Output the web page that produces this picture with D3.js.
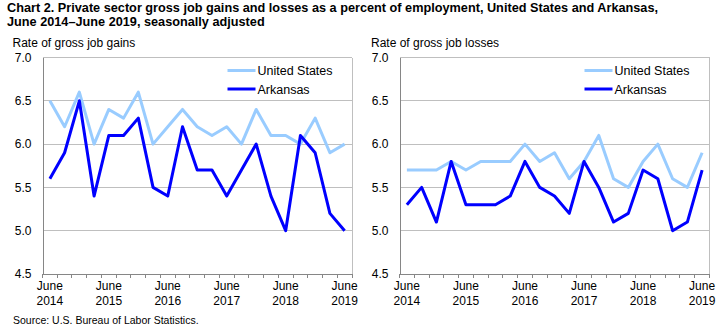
<!DOCTYPE html>
<html>
<head>
<meta charset="utf-8">
<script src="https://cdn.jsdelivr.net/npm/d3@7"></script>
<style>
  html, body { margin: 0; padding: 0; background: #fff; }
  svg { display: block; }
  text { font-family: "Liberation Sans", Arial, sans-serif; fill: #000; }
</style>
</head>
<body>
<svg id="chart" width="726" height="333"></svg>
<script>
// Quarterly reference months, June 2014 through June 2019
const quarters = [
  "2014-06", "2014-09", "2014-12", "2015-03",
  "2015-06", "2015-09", "2015-12", "2016-03",
  "2016-06", "2016-09", "2016-12", "2017-03",
  "2017-06", "2017-09", "2017-12", "2018-03",
  "2018-06", "2018-09", "2018-12", "2019-03",
  "2019-06"
];

// Gross job gains, percent of employment
const usGains = [6.5, 6.2, 6.6, 6.0, 6.4, 6.3, 6.6, 6.0, 6.2, 6.4, 6.2, 6.1, 6.2, 6.0, 6.4, 6.1, 6.1, 6.0, 6.3, 5.9, 6.0];
const arGains = [5.6, 5.9, 6.5, 5.4, 6.1, 6.1, 6.3, 5.5, 5.4, 6.2, 5.7, 5.7, 5.4, 5.7, 6.0, 5.4, 5.0, 6.1, 5.9, 5.2, 5.0];

// Gross job losses, percent of employment
const usLosses = [5.7, 5.7, 5.7, 5.8, 5.7, 5.8, 5.8, 5.8, 6.0, 5.8, 5.9, 5.6, 5.8, 6.1, 5.6, 5.5, 5.8, 6.0, 5.6, 5.5, 5.9];
const arLosses = [5.3, 5.5, 5.1, 5.8, 5.3, 5.3, 5.3, 5.4, 5.8, 5.5, 5.4, 5.2, 5.8, 5.5, 5.1, 5.2, 5.7, 5.6, 5.0, 5.1, 5.7];

// Axis ticks and labels
const yTicks = [4.5, 5.0, 5.5, 6.0, 6.5, 7.0];
const xLabelQuarters = ["2014-06", "2015-06", "2016-06", "2017-06", "2018-06", "2019-06"];
const xLabelMonth = "June";

const seriesNames = ["United States", "Arkansas"];
const seriesColors = ["#99CCFF", "#0000FF"];

const titleLines = [
  "Chart 2. Private sector gross job gains and losses as a percent of employment, United States and Arkansas,",
  "June 2014\u2013June 2019, seasonally adjusted"
];
const sourceText = "Source: U.S. Bureau of Labor Statistics.";

const svg = d3.select("#chart");

// Title, bold and condensed to its line width
const t1 = svg.append("text").attr("x", 7).attr("y", 12)
  .attr("font-size", 13).attr("font-weight", "bold").text(titleLines[0]);
const t2 = svg.append("text").attr("x", 7).attr("y", 26)
  .attr("font-size", 13).attr("font-weight", "bold").text(titleLines[1]);
const w1 = t1.node().getComputedTextLength();
const squeeze = 651 / w1;
t1.attr("textLength", 651).attr("lengthAdjust", "spacingAndGlyphs");
t2.attr("textLength", t2.node().getComputedTextLength() * squeeze).attr("lengthAdjust", "spacingAndGlyphs");

svg.append("text").attr("x", 13).attr("y", 324).attr("font-size", 10.5).text(sourceText);

const plotTop = 57.5, plotBottom = 274;
const y = d3.scaleLinear().domain([4.5, 7.0]).range([plotBottom, plotTop]);

function panel(left, right, axisTitle, titleX, us, ar) {
  const g = svg.append("g");
  const x = d3.scaleBand().domain(quarters).range([left, right]).padding(0);
  const cx = q => x(q) + x.bandwidth() / 2;

  // horizontal gridlines
  g.selectAll("line.grid").data(yTicks.filter(v => v > 4.5)).join("line")
    .attr("x1", left).attr("x2", right)
    .attr("y1", d => y(d)).attr("y2", d => y(d))
    .attr("stroke", "#BFBFBF").attr("stroke-width", 1)
    .attr("shape-rendering", "crispEdges");

  // right border of the plot area
  g.append("line").attr("x1", right).attr("x2", right).attr("y1", plotTop).attr("y2", plotBottom)
    .attr("stroke", "#BFBFBF").attr("shape-rendering", "crispEdges");

  // y axis
  const yAxis = d3.axisLeft(y).tickValues(yTicks).tickFormat(d3.format(".1f")).tickSize(0).tickPadding(11);
  const ya = g.append("g").attr("transform", `translate(${left},0)`).call(yAxis);
  ya.select(".domain").attr("stroke", "#868686").attr("shape-rendering", "crispEdges");
  ya.selectAll("text").attr("font-size", 12).attr("font-family", null).attr("fill", "#000");
  ya.attr("font-family", null);

  // x axis: tick marks on band edges
  const edges = quarters.map(q => x(q)).concat([right]);
  g.selectAll("line.xt").data(edges).join("line")
    .attr("x1", d => d).attr("x2", d => d).attr("y1", plotBottom).attr("y2", plotBottom + 4)
    .attr("stroke", "#868686").attr("shape-rendering", "crispEdges");
  g.append("line").attr("x1", left).attr("x2", right).attr("y1", plotBottom).attr("y2", plotBottom)
    .attr("stroke", "#868686").attr("shape-rendering", "crispEdges");

  const lbl = g.selectAll("text.xl").data(xLabelQuarters).join("text")
    .attr("text-anchor", "middle").attr("font-size", 12);
  lbl.append("tspan").attr("x", d => cx(d)).attr("y", 290).text(xLabelMonth);
  lbl.append("tspan").attr("x", d => cx(d)).attr("y", 305).text(d => d.slice(0, 4));

  // axis title
  svg.append("text").attr("x", titleX).attr("y", 47).attr("font-size", 12).text(axisTitle);

  // series lines
  const line = d3.line().x((d, i) => cx(quarters[i])).y(d => y(d));
  [us, ar].forEach((vals, k) => {
    g.append("path").datum(vals).attr("d", line)
      .attr("fill", "none").attr("stroke", seriesColors[k]).attr("stroke-width", 3)
      .attr("stroke-linejoin", "round");
  });

  // legend
  const ly = [70.5, 89];
  seriesNames.forEach((name, k) => {
    g.append("line").attr("x1", left + 185).attr("x2", left + 213)
      .attr("y1", ly[k]).attr("y2", ly[k])
      .attr("stroke", seriesColors[k]).attr("stroke-width", 3);
    g.append("text").attr("x", left + 215).attr("y", ly[k]).attr("dy", "0.36em")
      .attr("font-size", 12.5).text(name);
  });
}

panel(42.5, 352, "Rate of gross job gains", 12.5, usGains, arGains);
panel(399.5, 709.5, "Rate of gross job losses", 371, usLosses, arLosses);
</script>
</body>
</html>
